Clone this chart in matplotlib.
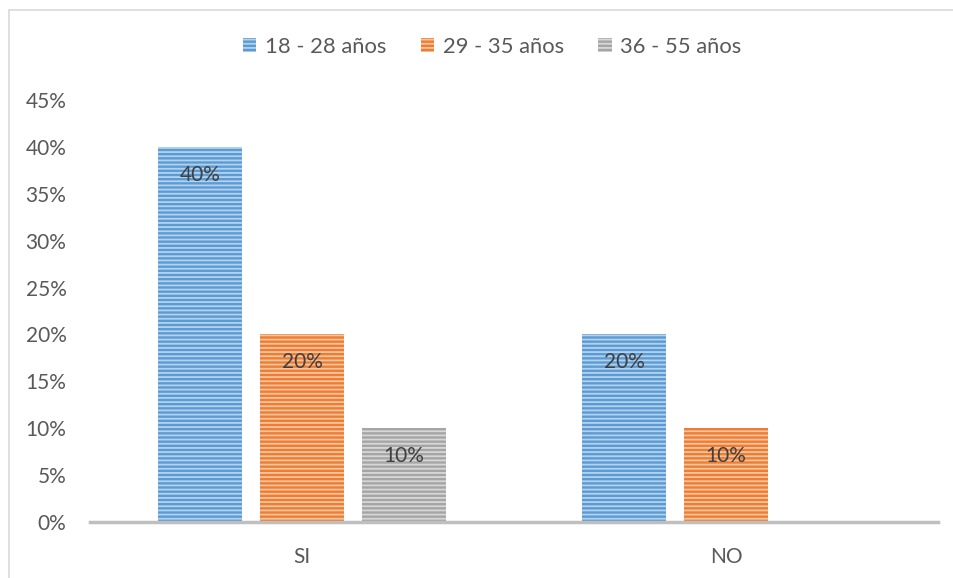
import numpy as np
import matplotlib.pyplot as plt
from matplotlib.patches import Patch, Rectangle
from matplotlib.colors import to_rgb

# respuestas por grupo de edad (porcentaje)
categorias = ["SI", "NO"]
grupos = ["18 - 28 años", "29 - 35 años", "36 - 55 años"]
valores = {
    "18 - 28 años": [40, 20],
    "29 - 35 años": [20, 10],
    "36 - 55 años": [10, 0],
}
colores = ["#5B9BD5", "#ED7D31", "#A5A5A5"]

plt.rcParams['font.family'] = ['Lato', 'DejaVu Sans']
plt.rcParams['hatch.linewidth'] = 1.3


def aclarar(c, f=0.55):
    r, g, b = to_rgb(c)
    return (r + (1 - r) * f, g + (1 - g) * f, b + (1 - b) * f)


fig = plt.figure(figsize=(9.54, 5.78), dpi=100)
ax = fig.add_axes([90 / 954, 56 / 578, 848 / 954, 422 / 578])

# marco del grafico
fig.patches.append(Rectangle((9 / 954, -0.1), 1.2, 1 - 10 / 578 + 0.1,
                             transform=fig.transFigure, fill=False,
                             edgecolor="#D9D9D9", linewidth=1.2))

x = np.arange(len(categorias))
ancho = 0.198
paso = 0.2406

for i, (g, c) in enumerate(zip(grupos, colores)):
    pos = x + (i - 1) * paso
    vals = valores[g]
    ax.bar(pos, vals, ancho, color=c, edgecolor=aclarar(c), linewidth=0,
           hatch="----", zorder=2)
    for px, v in zip(pos, vals):
        if v > 0:
            ax.annotate(f"{v}%", (px, v), xytext=(0, -20), textcoords="offset points",
                        ha="center", va="center", fontsize=15, color="#404040", zorder=3)

ax.set_xlim(-0.5, 1.5)
ax.set_ylim(0, 45)
ax.set_yticks(np.arange(0, 46, 5))
ax.set_yticklabels([f"{t}%" for t in range(0, 46, 5)])
ax.set_xticks(x)
ax.set_xticklabels(categorias)

for s in ["top", "right", "left"]:
    ax.spines[s].set_visible(False)
ax.spines["bottom"].set_color("#BFBFBF")
ax.spines["bottom"].set_linewidth(2.5)
ax.tick_params(axis="both", length=0, labelsize=15, labelcolor="#595959")
ax.tick_params(axis="y", pad=17)
ax.tick_params(axis="x", pad=18)

handles = [Patch(facecolor=c, edgecolor=aclarar(c), linewidth=0, hatch="----") for c in colores]
fig.legend(handles, grupos, loc="center", bbox_to_anchor=(0.516, 1 - 47 / 578), ncol=3,
           frameon=False, fontsize=15.8, labelcolor="#595959", handlelength=0.62,
           handleheight=0.62, handletextpad=0.4, columnspacing=1.55)

fig.savefig("out.png", dpi=100)
